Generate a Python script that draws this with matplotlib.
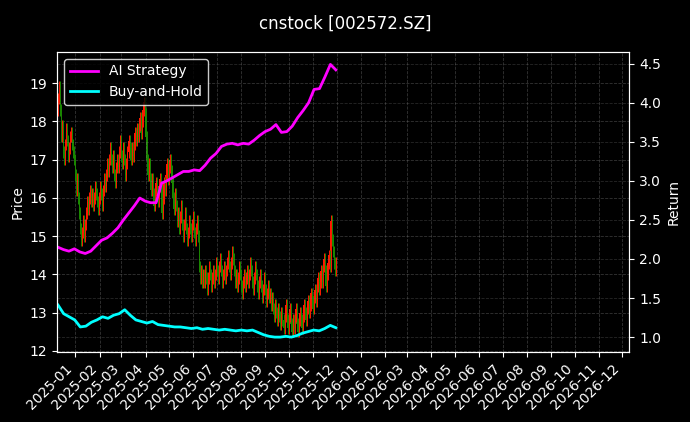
import matplotlib
matplotlib.use("Agg")
import matplotlib.pyplot as plt
import matplotlib.dates as mdates
import numpy as np
import pandas as pd

c_2412 = [18.6,18.9,18.3,17.6,17.9,17.2,17.0,17.4,17.8,17.5,17.1,17.3,17.6,17.7,17.4,17.2]
c_2501 = [17.0,16.6,16.2,16.5,16.0,15.6,15.2,14.9,15.1,15.4,15.0,15.3,15.6,15.9,15.7,16.0,16.2,15.9,16.1,15.8,16.0,16.3,16.1]
c_2502 = [15.9,15.7,16.0,16.3,16.1,15.8,16.2,16.5,16.3,16.6,16.9,16.7,17.0,17.3,17.0,16.8,17.1,16.6,16.4,16.8]
c_2503 = [17.0,16.8,17.2,17.5,17.1,16.9,17.3,17.0,16.6,16.9,17.2,17.5,17.3,17.0,17.3,17.1,17.4,17.7,17.5,17.8,17.6]
c_2504 = [17.9,18.1,17.7,18.0,18.3,18.5,18.2,17.6,17.0,16.6,16.9,16.5,16.2,16.5,16.1,15.8,16.2,16.4,16.1,15.9,16.3,16.5]
c_2505 = [16.3,15.6,16.0,16.4,16.2,16.6,16.9,16.5,16.8,17.0,16.7,16.4,16.0,15.7,16.1,15.8,15.4,15.6,15.2,15.5,15.8,15.3]
c_2506 = [15.0,15.3,15.6,15.2,14.9,15.1,15.4,15.2,15.0,15.3,15.5,15.1,14.9,15.2,15.4,15.0,14.2,13.9,14.1,13.8,14.0]
c_2507 = [13.8,14.1,13.9,13.6,13.9,14.2,14.0,13.7,13.9,14.1,13.8,14.0,14.3,14.1,13.9,14.2,14.4,14.1,13.8,14.0,14.2,13.9,14.1]
c_2508 = [14.3,14.5,14.2,14.0,14.3,14.6,14.4,14.1,13.8,14.0,13.7,13.9,14.2,14.0,13.7,13.5,13.8,14.0,13.7,13.9,14.1]
c_2509 = [13.8,14.0,14.3,14.1,13.8,13.6,13.9,14.2,14.0,13.7,13.5,13.8,14.0,13.7,13.4,13.6,13.9,13.6,13.3,13.5,13.7,13.4]
c_2510 = [13.5,13.2,13.4,13.1,12.9,13.2,13.0,12.8,13.1,12.9,12.7,13.0,12.8,12.6,12.9,13.2,12.8,12.6,12.9,13.1,12.7,12.5,12.8]
c_2511 = [12.6,12.9,13.1,12.7,12.5,12.8,13.0,12.8,12.6,12.9,13.2,13.0,12.8,13.1,13.3,13.0,13.2,13.5,13.3,13.1]
c_2512 = [13.4,13.6,13.3,13.7,13.9,13.6,13.8,14.1,13.8,14.2,14.4,14.1,13.7,14.0,14.3,14.5,14.2,15.4,14.9,14.6,14.3,14.1,14.3]
segments = [c_2412,c_2501,c_2502,c_2503,c_2504,c_2505,c_2506,c_2507,c_2508,c_2509,c_2510,c_2511,c_2512]

strategy = [2.15,2.12,2.10,2.13,2.09,2.07,2.10,2.17,2.24,2.27,2.33,2.40,2.50,2.59,2.68,2.78,2.74,2.72,2.72,2.97,
            3.00,3.04,3.08,3.12,3.12,3.14,3.13,3.20,3.29,3.35,3.44,3.47,3.48,3.46,3.48,3.47,3.52,3.58,3.63,3.66,
            3.72,3.62,3.63,3.70,3.81,3.90,4.00,4.17,4.18,4.33,4.49,4.42]
buyhold = [1.41,1.30,1.26,1.22,1.13,1.14,1.19,1.22,1.26,1.24,1.28,1.30,1.35,1.28,1.22,1.20,1.18,1.20,1.16,1.15,
           1.14,1.13,1.13,1.12,1.11,1.12,1.10,1.11,1.10,1.09,1.10,1.09,1.08,1.09,1.08,1.09,1.06,1.03,1.01,1.00,
           1.00,1.01,1.00,1.02,1.05,1.07,1.09,1.08,1.11,1.15,1.12]

start, end = "2024-12-10", "2025-11-30"
closes = np.array([v for seg in segments for v in seg])
dates = pd.date_range(start, end, periods=len(closes))
opens = np.concatenate([[closes[0] - 0.3], closes[:-1]])
highs = np.maximum(opens, closes) + 0.15
lows = np.minimum(opens, closes) - 0.15

plt.style.use("dark_background")
fig = plt.figure(figsize=(6.9, 4.22), dpi=100)
ax = fig.add_axes([0.083, 0.166, 0.829, 0.711])
ax2 = ax.twinx()

up = closes >= opens
cols = np.where(up, "#ff1a00", "#1a8a00")
xd = mdates.date2num(dates)
ax.vlines(xd, lows, highs, colors=cols, linewidth=0.7)
ax.bar(xd, np.abs(closes - opens), bottom=np.minimum(opens, closes), width=0.8, color=cols, linewidth=0)

ld1 = pd.date_range(start, end, periods=len(strategy))
ld2 = pd.date_range(start, end, periods=len(buyhold))
ax2.plot(ld1, strategy, color="#ff00ff", lw=2, label="AI Strategy")
ax2.plot(ld2, buyhold, color="#00ffff", lw=2, label="Buy-and-Hold")

ax.set_ylim(11.97, 19.82)
ax2.set_ylim(0.81, 4.65)
ax.set_xlim(mdates.date2num(pd.Timestamp("2024-12-09")), mdates.date2num(pd.Timestamp("2026-12-10")))
ax.xaxis.set_major_locator(mdates.MonthLocator())
ax.xaxis.set_major_formatter(mdates.DateFormatter("%Y-%m"))
for lab in ax.get_xticklabels():
    lab.set_rotation(45); lab.set_ha("right")
ax.grid(True, linestyle="--", color="gray", alpha=0.4, linewidth=0.6)
ax2.grid(True, axis="y", linestyle="--", color="gray", alpha=0.3, linewidth=0.6)
ax.set_ylabel("Price")
ax2.set_ylabel("Return")
ax2.legend(loc="upper left", facecolor="black", edgecolor="white")
fig.suptitle("cnstock [002572.SZ]", y=0.965, fontsize=12)
fig.savefig("out.png", dpi=100, facecolor="black")
